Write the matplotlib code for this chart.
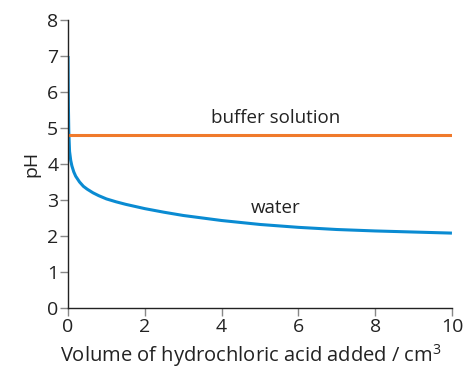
import matplotlib
matplotlib.use("Agg")
import matplotlib.pyplot as plt

plt.rcParams['font.family'] = ['Open Sans', 'DejaVu Sans']

# Volume of HCl added (cm^3) and resulting pH
water_volume = [0, 0.005, 0.01, 0.02, 0.04, 0.07, 0.1, 0.15, 0.2, 0.3, 0.4, 0.5, 0.65, 0.8,
                1.0, 1.25, 1.5, 2.0, 2.5, 3.0, 4.0, 5.0, 6.0, 7.0, 8.0, 9.0, 10.0]
water_ph = [7.0, 6.2, 5.6, 4.9, 4.35, 4.1, 3.95, 3.78, 3.66, 3.5, 3.38, 3.3, 3.2, 3.12,
            3.03, 2.95, 2.88, 2.76, 2.66, 2.57, 2.43, 2.32, 2.24, 2.18, 2.14, 2.11, 2.08]
buffer_volume = [0, 10]
buffer_ph = [4.8, 4.8]

x_ticks = [0, 2, 4, 6, 8, 10]
y_ticks = [0, 1, 2, 3, 4, 5, 6, 7, 8]

fig = plt.figure(figsize=(4.64, 3.76), dpi=100)
ax = fig.add_axes([0.1466, 0.1809, 0.8274, 0.7659])

ax.plot(water_volume, water_ph, color='#0a8bd2', lw=2.2, solid_capstyle='butt')
ax.plot(buffer_volume, buffer_ph, color='#f07a2c', lw=2.2, solid_capstyle='butt')

ax.set_xlim(0, 10)
ax.set_ylim(0, 8)
ax.set_xticks(x_ticks)
ax.set_yticks(y_ticks)
for side in ('top', 'right'):
    ax.spines[side].set_visible(False)
for side in ('left', 'bottom'):
    ax.spines[side].set_linewidth(1.0)
    ax.spines[side].set_color('#222222')
ax.tick_params(direction='out', length=6, width=1.0, color='#888888',
               labelsize=14, labelcolor='#222222', pad=1)

ax.set_xlabel('Volume of hydrochloric acid added / cm$^{\\mathregular{3}}$', fontsize=14.5,
              color='#222222')
ax.xaxis.set_label_coords(0.475, -0.12)
ax.set_ylabel('pH', fontsize=14, color='#222222', labelpad=5)

ax.text(5.4, 5.28, 'buffer solution', fontsize=13.5, color='#222222', ha='center', va='center')
ax.text(5.4, 2.78, 'water', fontsize=13.5, color='#222222', ha='center', va='center')

fig.savefig('out.png', dpi=100)
